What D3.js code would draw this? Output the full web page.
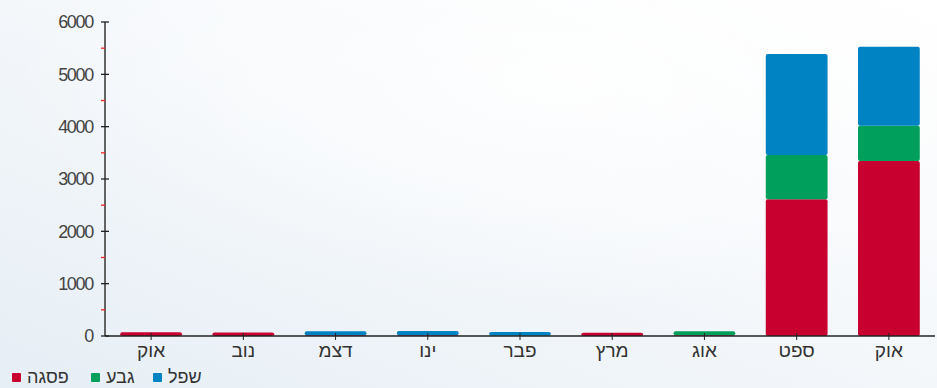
<!DOCTYPE html>
<html><head><meta charset="utf-8">
<script src="https://cdn.jsdelivr.net/npm/d3@7"></script>
<style>
html,body{margin:0;padding:0;background:#fff;}
svg{display:block;font-family:"Liberation Sans",Arial,sans-serif;}
</style></head>
<body>
<svg id="chart" width="937" height="388"></svg>
<script>
const categories = ["אוק","נוב","דצמ","ינו","פבר","מרץ","אוג","ספט","אוק"];
const seriesNames = ["פסגה","גבע","שפל"];
const seriesColors = ["#c8002f","#00a05c","#0083c2"];
const peak   = [70, 65, 15, 15, 0, 60, 15, 2612, 3344];
const mid    = [0, 0, 0, 0, 10, 0, 75, 847, 675];
const low    = [0, 0, 75, 80, 65, 0, 0, 1930, 1510];
const yTicks = [0,1000,2000,3000,4000,5000,6000];
const yMinorTicks = [500,1500,2500,3500,4500,5500];

(function(){
const svg = d3.select("#chart");
const W = 937, H = 388;
const defs = svg.append("defs");
const g1 = defs.append("linearGradient").attr("id","bg").attr("x1","100%").attr("y1","0%").attr("x2","0%").attr("y2","100%");
g1.append("stop").attr("offset","0%").attr("stop-color","#ffffff");
g1.append("stop").attr("offset","45%").attr("stop-color","#f5f8fb");
g1.append("stop").attr("offset","100%").attr("stop-color","#e6eef5");
svg.append("rect").attr("width",W).attr("height",H).attr("fill","url(#bg)");
const rg = defs.append("radialGradient").attr("id","sw").attr("cx","60%").attr("cy","20%").attr("r","60%");
rg.append("stop").attr("offset","0%").attr("stop-color","#ffffff").attr("stop-opacity",0.8);
rg.append("stop").attr("offset","100%").attr("stop-color","#ffffff").attr("stop-opacity",0);
svg.append("rect").attr("width",W).attr("height",H).attr("fill","url(#sw)");

const mLeft = 105, mRight = 935, mTop = 22, mBottom = 336;
const x = d3.scaleBand().domain(d3.range(categories.length)).range([mLeft,mRight]).paddingInner(0.33).paddingOuter(0.165);
const y = d3.scaleLinear().domain([0,6000]).range([mBottom,mTop]);

const rows = categories.map((c,i)=>({i, "פסגה":peak[i], "גבע":mid[i], "שפל":low[i]}));
const stack = d3.stack().keys(seriesNames)(rows);

const gBars = svg.append("g");
stack.forEach((layer,si)=>{
  gBars.selectAll(null).data(layer.filter(d=>d[1]-d[0]>0)).enter().append("rect")
    .attr("x",d=>x(d.data.i))
    .attr("width",x.bandwidth())
    .attr("y",d=>y(d[1]))
    .attr("height",d=>Math.max(0,y(d[0])-y(d[1])))
    .attr("rx",2)
    .attr("fill",seriesColors[si]);
});

// Y axis
const yAxis = svg.append("g");
yAxis.append("line").attr("x1",mLeft).attr("x2",mLeft).attr("y1",y(6000)).attr("y2",mBottom).attr("stroke","#333").attr("stroke-width",1.5);
yAxis.selectAll(".maj").data(yTicks).enter().append("line")
  .attr("x1",mLeft-4).attr("x2",mLeft+4).attr("y1",d=>y(d)).attr("y2",d=>y(d)).attr("stroke","#222").attr("stroke-width",1.3);
yAxis.selectAll(".min").data(yMinorTicks).enter().append("line")
  .attr("x1",mLeft-4).attr("x2",mLeft).attr("y1",d=>y(d)).attr("y2",d=>y(d)).attr("stroke","#ff2020").attr("stroke-width",1.3);
yAxis.selectAll("text").data(yTicks).enter().append("text")
  .attr("x",93).attr("y",d=>y(d)).attr("dy","0.36em").attr("text-anchor","end")
  .attr("font-size",18).attr("letter-spacing","-1.3").attr("fill","#444").text(d=>d);

// X axis
const xAxis = svg.append("g");
xAxis.append("line").attr("x1",mLeft).attr("x2",mRight).attr("y1",mBottom).attr("y2",mBottom).attr("stroke","#222").attr("stroke-width",1.5);
xAxis.selectAll(".t").data(d3.range(categories.length)).enter().append("line")
  .attr("x1",i=>x(i)+x.bandwidth()/2).attr("x2",i=>x(i)+x.bandwidth()/2)
  .attr("y1",mBottom-3).attr("y2",mBottom+4).attr("stroke","#222").attr("stroke-width",1);
xAxis.selectAll("text").data(categories).enter().append("text")
  .attr("x",(d,i)=>x(i)+x.bandwidth()/2).attr("y",357).attr("text-anchor","middle")
  .attr("font-size",19).attr("fill","#333").text(d=>d);

// Legend
const legendX = [12, 91, 153];
const leg = svg.append("g");
seriesNames.forEach((n,i)=>{
  leg.append("rect").attr("x",legendX[i]).attr("y",373).attr("width",9).attr("height",9).attr("rx",1).attr("fill",seriesColors[i]);
  leg.append("text").attr("x",legendX[i]+15).attr("y",383).attr("font-size",18).attr("fill","#333")
    .attr("text-anchor","start").text(n);
});
})();
</script>
</body></html>
